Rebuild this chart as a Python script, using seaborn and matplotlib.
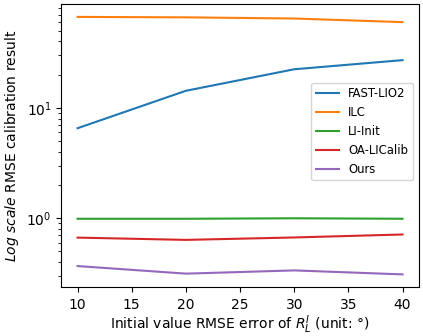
import matplotlib
matplotlib.use("Agg")
import matplotlib.pyplot as plt
import seaborn as sns
import pandas as pd

x_values = [10, 20, 30, 40]
methods = ["FAST-LIO2", "ILC", "LI-Init", "OA-LICalib", "Ours"]
fast_lio2 = [6.55, 14.3, 22.4, 27.1]
ilc = [66.8, 66.2, 64.6, 59.9]
li_init = [0.99, 0.99, 1.0, 0.99]
oa_licalib = [0.668, 0.637, 0.67, 0.713]
ours = [0.369, 0.315, 0.337, 0.31]

series = [fast_lio2, ilc, li_init, oa_licalib, ours]
rows = []
for name, vals in zip(methods, series):
    for xv, yv in zip(x_values, vals):
        rows.append({"x": xv, "y": yv, "method": name})
df = pd.DataFrame(rows)

fig, ax = plt.subplots(figsize=(4.23, 3.36), dpi=100)
sns.lineplot(data=df, x="x", y="y", hue="method", hue_order=methods,
             palette="tab10", ax=ax)
ax.set_yscale("log")
ax.set_xlabel(r"Initial value RMSE error of $R_L^I$ (unit: °)", labelpad=1)
ax.set_ylabel(r"$\mathit{Log\ scale}$ RMSE calibration result")
ax.tick_params(axis="x", pad=4.5)
ax.legend(loc="center right", bbox_to_anchor=(1.0, 0.55), fontsize="small")
fig.subplots_adjust(left=0.145, right=0.99, top=0.988, bottom=0.145)
fig.savefig("out.png", dpi=100)
